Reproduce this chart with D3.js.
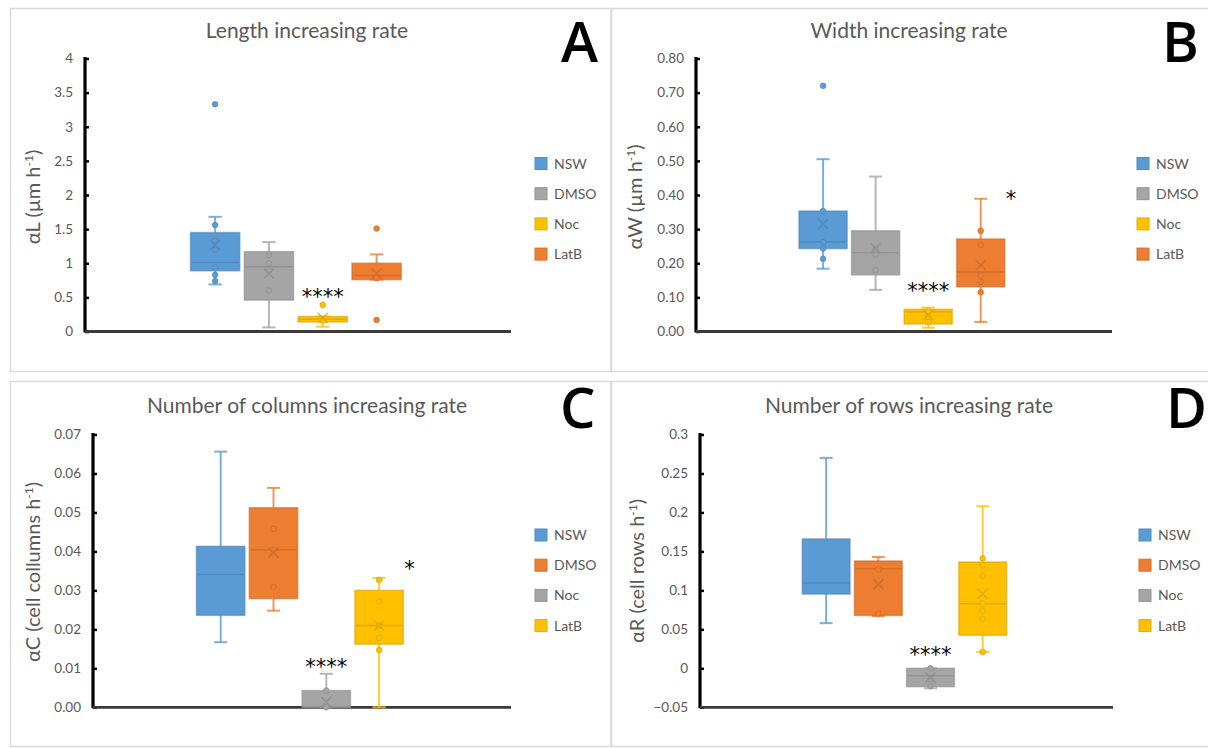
<!DOCTYPE html>
<html><head><meta charset="utf-8">
<script src="https://cdn.jsdelivr.net/npm/d3@7"></script>
<style>
body{margin:0;background:#fff}
svg{display:block}
text{font-family:Lato,"Open Sans","Noto Sans",sans-serif}
</style>
</head><body>
<svg id="chart" width="1208" height="748"></svg>
<script>
// ---------- DATA ----------
const seriesNames = ["NSW", "DMSO", "Noc", "LatB"];
const colorsAB = ["#5B9BD5", "#A5A5A5", "#FFC000", "#ED7D31"];
const colorsCD = ["#5B9BD5", "#ED7D31", "#A5A5A5", "#FFC000"];

// stats per series: [whiskerLow, q1, median, q3, whiskerHigh, mean]
const lengthStats = [
  [0.69, 0.89, 1.01, 1.45, 1.68, 1.27],
  [0.06, 0.46, 0.95, 1.17, 1.31, 0.85],
  [0.07, 0.14, 0.18, 0.22, 0.22, 0.20],
  [0.76, 0.76, 0.82, 1.00, 1.13, 0.85]
];
const lengthPoints = [
  [3.33, 1.56, 1.33, 1.20, 0.94, 0.83, 0.74],
  [1.12, 1.00, 0.89, 0.60],
  [0.39, 0.16],
  [1.51, 0.17, 0.78]
];
const widthStats = [
  [0.184, 0.243, 0.263, 0.353, 0.505, 0.315],
  [0.122, 0.166, 0.231, 0.295, 0.454, 0.244],
  [0.011, 0.022, 0.058, 0.065, 0.070, 0.048],
  [0.028, 0.131, 0.174, 0.271, 0.389, 0.195]
];
const widthPoints = [
  [0.72, 0.353, 0.262, 0.243, 0.213],
  [0.240, 0.225, 0.180],
  [0.060, 0.043, 0.028],
  [0.295, 0.253, 0.163, 0.145, 0.115]
];
const columnsStats = [
  [0.0167, 0.0236, 0.0341, 0.0413, 0.0656, null],
  [0.0248, 0.0279, 0.0404, 0.0512, 0.0563, 0.0397],
  [0.0, 0.0, 0.0, 0.0043, 0.0086, 0.0014],
  [0.0, 0.0162, 0.0210, 0.0300, 0.0332, 0.0210]
];
const columnsPoints = [
  [],
  [0.0458, 0.0404, 0.0309],
  [0.0043, 0.0],
  [0.0327, 0.0272, 0.0210, 0.0178, 0.0147]
];
const rowsStats = [
  [0.058, 0.0953, 0.1094, 0.166, 0.270, null],
  [0.067, 0.0678, 0.1278, 0.1377, 0.1428, 0.108],
  [-0.0256, -0.0235, -0.0094, 0.0, 0.0, -0.012],
  [0.0211, 0.0425, 0.0828, 0.1364, 0.208, 0.0956]
];
const rowsPoints = [
  [],
  [0.127, 0.0703],
  [0.0, -0.014, -0.023],
  [0.141, 0.132, 0.119, 0.083, 0.0738, 0.0635, 0.021]
];

const lengthTicks = [0, 0.5, 1, 1.5, 2, 2.5, 3, 3.5, 4];
const widthTicks = [0, 0.1, 0.2, 0.3, 0.4, 0.5, 0.6, 0.7, 0.8];
const columnsTicks = [0, 0.01, 0.02, 0.03, 0.04, 0.05, 0.06, 0.07];
const rowsTicks = [-0.05, 0, 0.05, 0.1, 0.15, 0.2, 0.25, 0.3];

const lengthNotes = [{series: "Noc", text: "****", value: 0.59, side: "center"}];
const widthNotes = [{series: "Noc", text: "****", value: 0.137, side: "center"},
                    {series: "LatB", text: "*", value: 0.405, side: "right"}];
const columnsNotes = [{series: "Noc", text: "****", value: 0.012, side: "center"},
                      {series: "LatB", text: "*", value: 0.037, side: "right"}];
const rowsNotes = [{series: "Noc", text: "****", value: 0.025, side: "center"}];

// ---------- DRAWING ----------
const svg = d3.select("#chart");
const GREY = "#595959";

// panel frames
const frames = [
  {x: 10.5, y: 8.5, w: 600.5, h: 363},
  {x: 611.5, y: 8.5, w: 610, h: 363},
  {x: 10.5, y: 381.5, w: 600.5, h: 365},
  {x: 611.5, y: 381.5, w: 610, h: 365}
];
svg.selectAll("rect.frame").data(frames).join("rect")
  .attr("class", "frame")
  .attr("x", d => d.x).attr("y", d => d.y)
  .attr("width", d => d.w).attr("height", d => d.h)
  .attr("fill", "none").attr("stroke", "#d9d9d9").attr("stroke-width", 1.5);

function drawPanel(cfg) {
  const g = svg.append("g");
  const y = d3.scaleLinear().domain(cfg.domain).range([cfg.bottom, cfg.top]);
  const x = d3.scaleBand().domain(seriesNames).range([cfg.left, cfg.right])
    .paddingInner(0.085).paddingOuter(2.0).align(0.49);
  const color = d3.scaleOrdinal().domain(seriesNames).range(cfg.colors);
  const bw = x.bandwidth();

  // title
  g.append("text").attr("x", cfg.titleX).attr("y", cfg.titleY)
    .attr("text-anchor", "middle").attr("font-size", 21).attr("fill", GREY)
    .text(cfg.title);
  // panel letter
  g.append("text").attr("x", cfg.letterX).attr("y", cfg.letterY)
    .attr("font-size", 56).attr("fill", "#000").attr("font-weight", 600)
    .style("font-family", "'Open Sans', 'Liberation Sans', sans-serif")
    .text(cfg.letter);

  // y axis label
  const yl = g.append("text")
    .attr("transform", `translate(${cfg.ylabX},${cfg.ylabY}) rotate(-90)`)
    .attr("text-anchor", "middle").attr("font-size", 20).attr("fill", GREY);
  yl.append("tspan").text(cfg.ylab[0]);
  yl.append("tspan").attr("baseline-shift", "super").attr("font-size", 12).text(cfg.ylab[1]);
  yl.append("tspan").text(cfg.ylab[2]);

  // y axis
  const ax = g.append("g").attr("transform", `translate(${cfg.left},0)`)
    .call(d3.axisLeft(y).tickValues(cfg.ticks).tickFormat(d3.format(cfg.fmt))
      .tickSizeInner(-4).tickSizeOuter(0).tickPadding(12));
  ax.select(".domain").attr("stroke", "#000").attr("stroke-width", 3.2)
    .attr("d", `M0,${cfg.top - 1.5}V${cfg.bottom + 1}`);
  ax.selectAll(".tick line").attr("stroke", "#000").attr("stroke-width", 2.5);
  ax.selectAll(".tick text").attr("fill", GREY).attr("font-size", 13.5)
    .style("font-family", "Lato, 'Open Sans', sans-serif");

  // x axis line at the bottom of the value range
  g.append("line").attr("x1", cfg.left).attr("x2", cfg.right)
    .attr("y1", y(cfg.domain[0])).attr("y2", y(cfg.domain[0]))
    .attr("stroke", "#3a3a3a").attr("stroke-width", 2.8);

  // boxes
  seriesNames.forEach((s, i) => {
    const st = cfg.stats[i];
    const c = color(s);
    const dark = d3.color(c).darker(0.45).formatHex();
    const cx = x(s) + bw / 2;
    const [wlo, q1, med, q3, whi, mean] = st;
    const bg = g.append("g");
    // whiskers
    const cap = bw * 0.135;
    bg.append("line").attr("x1", cx).attr("x2", cx).attr("y1", y(q3)).attr("y2", y(whi))
      .attr("stroke", c).attr("stroke-width", 2).attr("stroke-opacity", 0.8);
    bg.append("line").attr("x1", cx).attr("x2", cx).attr("y1", y(q1)).attr("y2", y(wlo))
      .attr("stroke", c).attr("stroke-width", 2).attr("stroke-opacity", 0.8);
    [whi, wlo].forEach(v => bg.append("line")
      .attr("x1", cx - cap).attr("x2", cx + cap).attr("y1", y(v)).attr("y2", y(v))
      .attr("stroke", c).attr("stroke-width", 2).attr("stroke-opacity", 0.8));
    // box
    bg.append("rect").attr("x", x(s)).attr("width", bw)
      .attr("y", y(q3)).attr("height", Math.max(0, y(q1) - y(q3)))
      .attr("fill", c).attr("stroke", dark).attr("stroke-opacity", 0.6).attr("stroke-width", 1.5);
    // median
    bg.append("line").attr("x1", x(s) + 1).attr("x2", x(s) + bw - 1)
      .attr("y1", y(med)).attr("y2", y(med))
      .attr("stroke", dark).attr("stroke-opacity", 0.75).attr("stroke-width", 1.5);
    // points
    bg.selectAll("circle").data(cfg.points[i]).join("circle")
      .attr("cx", cx).attr("cy", d => y(d)).attr("r", 2.8)
      .attr("fill", c).attr("stroke", dark).attr("stroke-opacity", 0.7).attr("stroke-width", 1);
    // mean marker
    if (mean !== null) {
      const m = 5, my = y(mean);
      bg.append("path")
        .attr("d", `M${cx - m},${my - m}L${cx + m},${my + m}M${cx - m},${my + m}L${cx + m},${my - m}`)
        .attr("stroke", dark).attr("stroke-opacity", 0.7).attr("stroke-width", 1.6).attr("fill", "none");
    }
  });

  // significance notes
  cfg.notes.forEach(n => {
    const nx = n.side === "center" ? x(n.series) + bw / 2 : x(n.series) + bw + 1;
    g.append("text").attr("x", nx).attr("y", y(n.value)).attr("dy", "0.62em")
      .attr("text-anchor", n.side === "center" ? "middle" : "start")
      .attr("font-size", 21).attr("fill", "#000")
      .style("font-family", "'DejaVu Sans', sans-serif")
      .text(n.text);
  });

  // legend
  const lg = g.append("g");
  seriesNames.forEach((s, i) => {
    const ly = cfg.legendY + i * 30.2;
    const c = color(s);
    lg.append("rect").attr("x", cfg.legendX).attr("y", ly - 6).attr("width", 12).attr("height", 12)
      .attr("fill", c).attr("stroke", d3.color(c).darker(0.3).formatHex()).attr("stroke-width", 1);
    lg.append("text").attr("x", cfg.legendX + 19).attr("y", ly).attr("dy", "0.36em")
      .attr("font-size", 14).attr("fill", GREY).text(s);
  });
}

drawPanel({
  title: "Length increasing rate", letter: "A", ylab: ["αL (µm h", "-1", ")"],
  domain: [0, 4], ticks: lengthTicks, fmt: "~g",
  stats: lengthStats, points: lengthPoints, notes: lengthNotes, colors: colorsAB,
  left: 85, right: 511, top: 58.5, bottom: 331.5,
  titleX: 307, titleY: 38, letterX: 561, letterY: 62, ylabX: 40, ylabY: 197,
  legendX: 535, legendY: 163.5
});
drawPanel({
  title: "Width increasing rate", letter: "B", ylab: ["αW (µm h", "-1", ")"],
  domain: [0, 0.8], ticks: widthTicks, fmt: ".2f",
  stats: widthStats, points: widthPoints, notes: widthNotes, colors: colorsAB,
  left: 696, right: 1112, top: 58.5, bottom: 331.5,
  titleX: 909, titleY: 38, letterX: 1162, letterY: 62, ylabX: 642, ylabY: 197,
  legendX: 1137, legendY: 163.5
});
drawPanel({
  title: "Number of columns increasing rate", letter: "C", ylab: ["αC (cell collumns h", "-1", ")"],
  domain: [0, 0.07], ticks: columnsTicks, fmt: ".2f",
  stats: columnsStats, points: columnsPoints, notes: columnsNotes, colors: colorsCD,
  left: 93, right: 511, top: 434.5, bottom: 707.3,
  titleX: 307, titleY: 413, letterX: 560, letterY: 428, ylabX: 40, ylabY: 572,
  legendX: 535, legendY: 535
});
drawPanel({
  title: "Number of rows increasing rate", letter: "D", ylab: ["αR (cell rows h", "-1", ")"],
  domain: [-0.05, 0.3], ticks: rowsTicks, fmt: "~g",
  stats: rowsStats, points: rowsPoints, notes: rowsNotes, colors: colorsCD,
  left: 700, right: 1113, top: 434.5, bottom: 707.3,
  titleX: 909, titleY: 413, letterX: 1166, letterY: 428, ylabX: 644, ylabY: 571,
  legendX: 1139, legendY: 535
});
</script>
</body></html>
